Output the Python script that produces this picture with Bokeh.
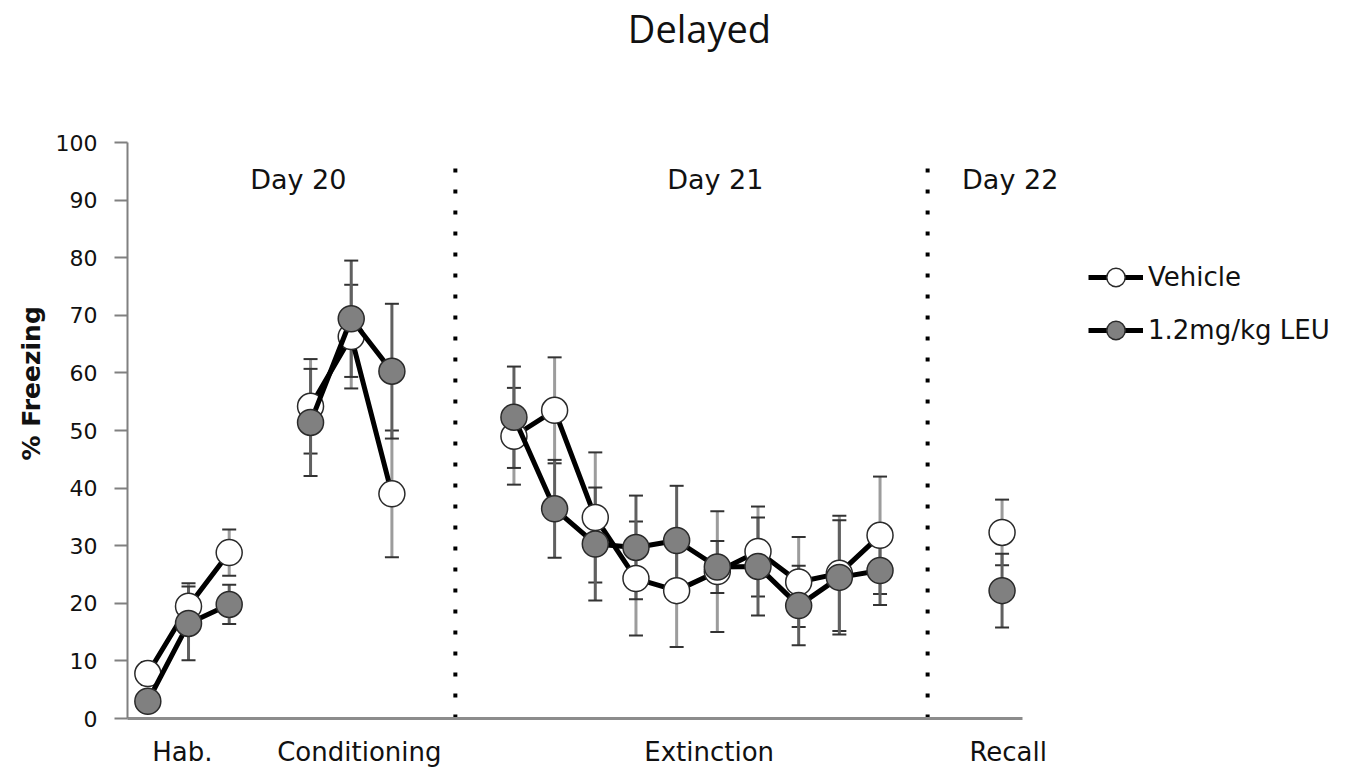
from bokeh.plotting import figure
from bokeh.models import (Range1d, FixedTicker, Whisker, TeeHead, Title,
                          ColumnDataSource, Legend, LegendItem)
from bokeh.core.properties import value
from bokeh.embed import file_html
from bokeh.resources import INLINE

# ---------------- data ----------------
# category slot positions (one slot per trial)
hab_x = [0.5, 1.5, 2.5]
cond_x = [4.5, 5.5, 6.5]
ext_x = [9.5, 10.5, 11.5, 12.5, 13.5, 14.5, 15.5, 16.5, 17.5, 18.5]
recall_x = [21.5]

veh_hab = [7.8, 19.5, 28.8]
veh_hab_err = [2.0, 4.0, 4.0]
leu_hab = [3.0, 16.5, 19.8]
leu_hab_err = [1.5, 6.4, 3.4]

veh_cond = [54.2, 66.3, 39.0]
veh_cond_err = [8.2, 9.0, 11.0]
leu_cond = [51.4, 69.4, 60.3]
leu_cond_err = [9.3, 10.1, 11.7]

veh_ext = [49.0, 53.5, 34.9, 24.3, 22.2, 25.5, 29.0, 23.7, 25.2, 31.8]
veh_ext_err = [8.4, 9.2, 11.3, 9.9, 9.8, 10.5, 7.8, 7.8, 10.0, 10.2]
leu_ext = [52.3, 36.4, 30.3, 29.7, 30.9, 26.3, 26.4, 19.6, 24.5, 25.7]
leu_ext_err = [8.8, 8.5, 9.8, 9.0, 9.5, 4.5, 8.5, 6.9, 9.9, 6.0]

veh_recall = [32.3]
veh_recall_err = [5.7]
leu_recall = [22.2]
leu_recall_err = [6.4]

phase_x = [hab_x, cond_x, ext_x, recall_x]
veh_y = [veh_hab, veh_cond, veh_ext, veh_recall]
veh_e = [veh_hab_err, veh_cond_err, veh_ext_err, veh_recall_err]
leu_y = [leu_hab, leu_cond, leu_ext, leu_recall]
leu_e = [leu_hab_err, leu_cond_err, leu_ext_err, leu_recall_err]

category_labels = ["Hab.", "Conditioning", "Extinction", "Recall"]
category_pos = [1.35, 5.7, 14.3, 21.65]

day_labels = ["Day 20", "Day 21", "Day 22"]
day_x = [4.2, 14.45, 21.7]
day_y = [93.6, 93.6, 93.6]

dividers = [8.06, 19.67]
divider_top = 96.5

y_ticks = [0, 10, 20, 30, 40, 50, 60, 70, 80, 90, 100]

series_names = ["Vehicle", "1.2mg/kg LEU"]
title_text = "Delayed"
y_label_text = "% Freezing"

# layout constants (title sits inside the extended frame, above the 0-100 axis)
TITLE_X = 14.06
TITLE_Y = 119.8
Y_TOP = 124.653   # frame top at the canvas top, 0..100 spans 576 px

# ---------------- figure ----------------
p = figure(width=1363, height=775, x_range=Range1d(0, 29.82), y_range=Range1d(0, Y_TOP),
           output_backend="svg", toolbar_location=None, title=None,
           min_border_left=127, min_border_right=23, min_border_top=0, min_border_bottom=57)
p.outline_line_color = None
p.grid.visible = False
p.background_fill_color = "white"
p.border_fill_color = "white"

# x axis
xa = p.xaxis[0]
xa.bounds = (0, 22)
xa.ticker = FixedTicker(ticks=category_pos)
xa.major_label_overrides = {pos: lab for pos, lab in zip(category_pos, category_labels)}
xa.axis_line_color = "#8c8c8c"
xa.axis_line_width = 3
xa.major_tick_line_color = None
xa.minor_tick_line_color = None
xa.major_tick_out = 0
xa.major_tick_in = 0
xa.major_label_standoff = 18
xa.major_label_text_font = "DejaVu Sans"
xa.major_label_text_font_size = "26px"
xa.major_label_text_color = "#111111"

# y axis
ya = p.yaxis[0]
ya.bounds = (0, 100)
ya.ticker = FixedTicker(ticks=y_ticks)
ya.axis_line_color = "#808080"
ya.axis_line_width = 2
ya.major_tick_line_color = "#808080"
ya.major_tick_line_width = 2
ya.major_tick_out = 13
ya.major_tick_in = 0
ya.minor_tick_line_color = None
ya.major_label_standoff = 17
ya.major_label_text_font = "DejaVu Sans"
ya.major_label_text_font_size = "22px"
ya.major_label_text_color = "#111111"

# y label as a side title (placed like the original, not centred on the frame)
p.add_layout(Title(text=y_label_text, align="left", offset=258, standoff=14,
                   text_font="DejaVu Sans", text_font_style="bold",
                   text_font_size="25px", text_color="#111111"), "left")

# chart title
p.text(x=[TITLE_X], y=[TITLE_Y], text=[title_text], text_font=value("Open Sans"),
       text_font_size="38px", text_align="center", text_baseline="alphabetic",
       text_color="#111111")

# dotted dividers
p.segment(x0=dividers, y0=[0] * len(dividers), x1=dividers, y1=[divider_top] * len(dividers),
          line_color="black", line_width=4, line_dash="4 17")

# day labels
p.text(x=day_x, y=day_y, text=day_labels, text_font=value("DejaVu Sans"),
       text_font_size="27px", text_align="center", text_baseline="middle",
       text_color="#111111")

# error bars
def add_whiskers(ys, es, stem_color):
    xs, up, lo = [], [], []
    for px, py, pe in zip(phase_x, ys, es):
        for a, b, c in zip(px, py, pe):
            xs.append(a)
            up.append(b + c)
            lo.append(b - c)
    src = ColumnDataSource(dict(x=xs, upper=up, lower=lo))
    w = Whisker(source=src, base="x", upper="upper", lower="lower", level="underlay",
                line_color=stem_color, line_width=3,
                upper_head=TeeHead(size=14, line_color="#333333", line_width=2),
                lower_head=TeeHead(size=14, line_color="#333333", line_width=2))
    p.add_layout(w)

add_whiskers(veh_y, veh_e, "#9c9c9c")
add_whiskers(leu_y, leu_e, "#606060")

def add_series(ys, fill):
    lines = []
    for px, py in zip(phase_x, ys):
        if len(px) > 1:
            lines.append(p.line(px, py, line_color="black", line_width=5, line_join="round"))
    allx = [a for px in phase_x for a in px]
    ally = [b for py in ys for b in py]
    sc = p.scatter(allx, ally, marker="circle", size=26, fill_color=fill,
                   line_color="#2a2a2a", line_width=1.5)
    return lines[0], sc

veh_line, veh_sc = add_series(veh_y, "white")
leu_line, leu_sc = add_series(leu_y, "#808080")

legend = Legend(items=[LegendItem(label=series_names[0], renderers=[veh_line, veh_sc]),
                       LegendItem(label=series_names[1], renderers=[leu_line, leu_sc])],
                location=(961, 365), orientation="vertical",
                glyph_width=55, glyph_height=46, label_height=46, label_standoff=5,
                spacing=7, padding=0, margin=0, border_line_color=None,
                background_fill_alpha=0, label_text_font="DejaVu Sans",
                label_text_font_size="26px", label_text_color="#111111")
p.add_layout(legend)

open("out.html", "w").write(file_html(p, INLINE))
